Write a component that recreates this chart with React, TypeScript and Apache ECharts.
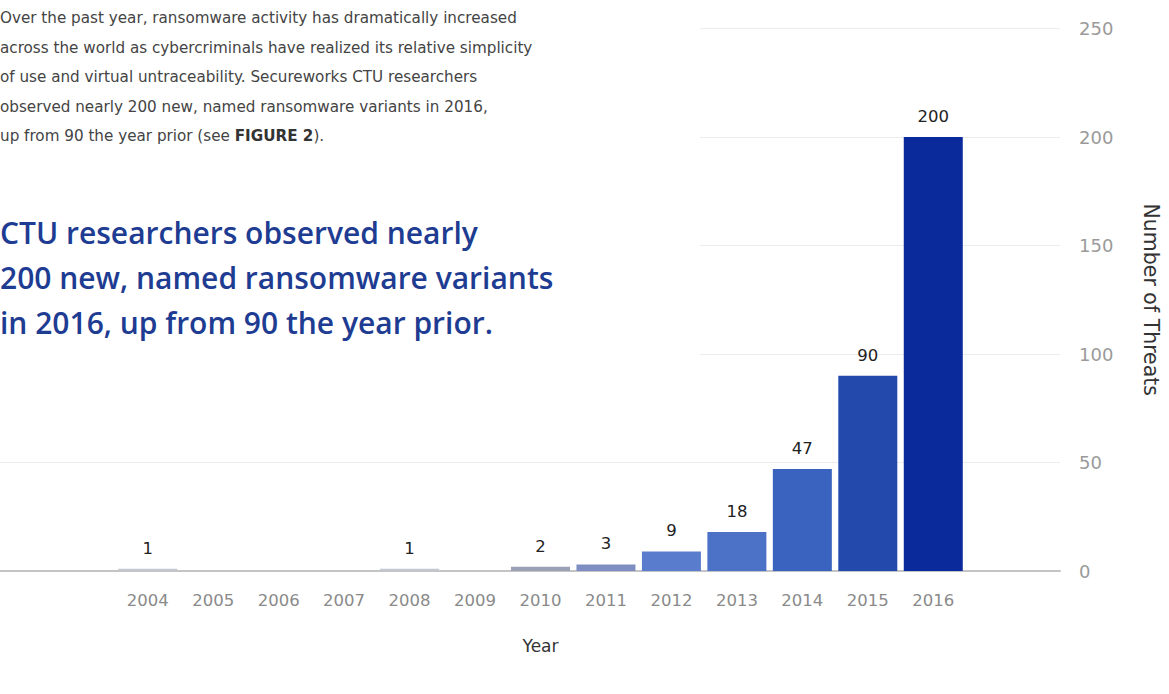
import React, { useEffect, useRef } from "react";
import * as echarts from "echarts";

const years = ["2004", "2005", "2006", "2007", "2008", "2009", "2010", "2011", "2012", "2013", "2014", "2015", "2016"];
const threats = [1, 0, 0, 0, 1, 0, 2, 3, 9, 18, 47, 90, 200];
const barColors = ["#c3c7d0", "#c3c7d0", "#c3c7d0", "#c3c7d0", "#c3c7d0", "#c3c7d0", "#9aa1b4", "#7f8ec2", "#5a7ccd", "#4c72c8", "#3a63c0", "#2249ab", "#0a2a9c"];
const paragraphLines = [
  "{n|Over the past year, ransomware activity has dramatically increased}",
  "{n|across the world as cybercriminals have realized its relative simplicity}",
  "{n|of use and virtual untraceability. Secureworks CTU researchers}",
  "{n|observed nearly 200 new, named ransomware variants in 2016,}",
  "{n|up from 90 the year prior (see }{b|FIGURE 2}{n|).}",
];
const headlineLines = [
  "CTU researchers observed nearly",
  "200 new, named ransomware variants",
  "in 2016, up from 90 the year prior.",
];

export default function App() {
  const ref = useRef<HTMLDivElement>(null);
  useEffect(() => {
    if (!ref.current) return;
    const chart = echarts.init(ref.current, null, { renderer: "svg" });
    const top = 28.5;
    const bottom = 123;
    const graphics: any[] = [
      {
        type: "rect",
        z: 1,
        shape: { x: 0, y: 0, width: 700, height: 385 },
        style: { fill: "#ffffff" },
        silent: true,
      },
    ];
    paragraphLines.forEach((t, i) => {
      graphics.push({
        type: "text",
        z: 2,
        x: 0,
        y: 18 + i * 29.5,
        style: {
          text: t,
          fontSize: 15.2,
          fontFamily: "DejaVu Sans",
          fill: "#444",
          verticalAlign: "middle",
          rich: {
            n: { fontSize: 15.2, fontFamily: "DejaVu Sans", fill: "#444" },
            b: { fontSize: 15.2, fontFamily: "DejaVu Sans", fontWeight: "bold", fill: "#333" },
          },
        },
      });
    });
    headlineLines.forEach((t, i) => {
      graphics.push({
        type: "text",
        z: 2,
        x: 0,
        y: 232 + i * 45,
        style: {
          text: t,
          fontSize: 30,
          fontFamily: "Open Sans",
          fontWeight: 600,
          fill: "#1e3c92",
          verticalAlign: "middle",
        },
      });
    });
    chart.setOption({
      animation: false,
      backgroundColor: "#ffffff",
      graphic: graphics,
      grid: [
        { left: 0, right: 97, top, bottom },
        { left: 115, right: 203, top, bottom },
      ],
      xAxis: [
        {
          type: "category",
          gridIndex: 0,
          data: [""],
          axisLine: { show: true, lineStyle: { color: "#c4c4c4", width: 2 } },
          axisTick: { show: false },
          axisLabel: { show: false },
        },
        {
          type: "category",
          gridIndex: 1,
          data: years,
          axisLine: { show: false },
          axisTick: { show: false },
          axisLabel: { color: "#8a8a8a", fontSize: 16.5, fontFamily: "DejaVu Sans", margin: 21 },
          name: "Year",
          nameLocation: "middle",
          nameGap: 66,
          nameTextStyle: { color: "#333", fontSize: 17, fontFamily: "DejaVu Sans" },
        },
      ],
      yAxis: [
        {
          type: "value",
          gridIndex: 0,
          position: "right",
          min: 0,
          max: 250,
          interval: 50,
          axisLine: { show: false },
          axisTick: { show: false },
          axisLabel: { color: "#9a9a9a", fontSize: 18, fontFamily: "DejaVu Sans", margin: 19 },
          splitLine: { lineStyle: { color: "#ececec", width: 1 } },
          name: "Number of Threats",
          nameLocation: "middle",
          nameRotate: -90,
          nameGap: 80,
          nameTextStyle: { color: "#333", fontSize: 20.5, fontFamily: "DejaVu Sans" },
        },
        {
          type: "value",
          gridIndex: 1,
          min: 0,
          max: 250,
          interval: 50,
          show: false,
          splitLine: { show: false },
        },
      ],
      series: [
        {
          type: "bar",
          xAxisIndex: 1,
          yAxisIndex: 1,
          barWidth: 59,
          data: threats.map((v, i) => ({
            value: v,
            itemStyle: { color: barColors[i] },
            label: { show: v > 0 },
          })),
          label: {
            show: true,
            position: "top",
            distance: 12,
            color: "#222",
            fontSize: 16.5,
            fontFamily: "DejaVu Sans",
          },
        },
      ],
    });
    return () => chart.dispose();
  }, []);
  return (
    <div
      ref={ref}
      style={{ position: "fixed", left: 0, top: 0, width: 1169, height: 694, background: "#fff" }}
    />
  );
}
